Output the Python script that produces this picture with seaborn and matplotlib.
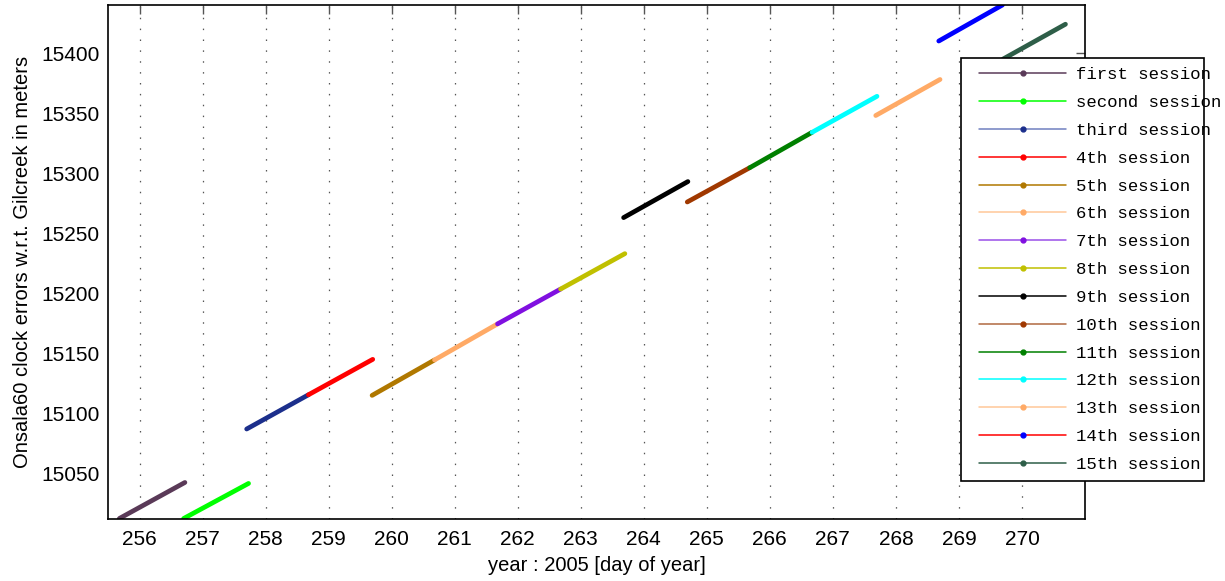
import matplotlib
matplotlib.use("Agg")
import matplotlib.pyplot as plt
from matplotlib.lines import Line2D
from matplotlib.patches import Rectangle
import seaborn as sns
import pandas as pd

# Session labels and the start / end of each clock-error segment
sessions = ["first session", "second session", "third session", "4th session",
            "5th session", "6th session", "7th session", "8th session",
            "9th session", "10th session", "11th session", "12th session",
            "13th session", "14th session", "15th session"]
t_start = [255.68, 256.70, 257.70, 258.68, 259.69, 260.68, 261.68, 262.68,
           263.68, 264.69, 265.68, 266.67, 267.68, 268.68, 269.70]
t_end = [256.72, 257.73, 258.68, 259.70, 260.68, 261.68, 262.68, 263.70,
         264.70, 265.68, 266.67, 267.70, 268.70, 269.69, 270.69]
v_start = [15012.5, 15012.5, 15087.0, 15115.5, 15115.0, 15144.5, 15174.5, 15203.5,
           15263.0, 15276.0, 15304.5, 15334.0, 15348.0, 15410.0, 15395.0]
v_end = [15042.5, 15041.7, 15115.5, 15145.0, 15144.5, 15174.5, 15203.5, 15233.0,
         15293.0, 15304.5, 15334.0, 15364.0, 15378.0, 15440.0, 15424.0]

# Colours: plotted segment, legend line, legend marker
seg_colors = ["#5a3a58", "#00ff00", "#1c2f8c", "#ff0000", "#b07800", "#ffaa66",
              "#8010e0", "#c0c000", "#000000", "#a03800", "#008000", "#00ffff",
              "#ffaa66", "#0000ff", "#2e5e48"]
leg_line_colors = ["#5a3a58", "#00ff00", "#7080c0", "#ff0000", "#b07800", "#ffc898",
                   "#9a50e8", "#c0c000", "#000000", "#b06840", "#008000", "#00ffff",
                   "#ffc898", "#ff0000", "#2e5e48"]
leg_marker_colors = ["#5a3a58", "#00ff00", "#1c2f8c", "#ff0000", "#b07800", "#ffaa66",
                     "#8010e0", "#c0c000", "#000000", "#a03800", "#008000", "#00ffff",
                     "#ffaa66", "#0000ff", "#2e5e48"]

x_ticks = list(range(256, 271))
y_ticks = [15050, 15100, 15150, 15200, 15250, 15300, 15350, 15400]

sns.set_style("white")
plt.rcParams["font.family"] = ["Liberation Sans", "DejaVu Sans"]
plt.rcParams["text.color"] = "black"
plt.rcParams["axes.labelcolor"] = "black"

fig = plt.figure(figsize=(12.25, 5.81), dpi=100)
ax = fig.add_axes([108 / 1225, 1 - 518.5 / 581, (1085 - 108) / 1225, (518.5 - 5) / 581])

for name, t0, t1, v0, v1, c in zip(sessions, t_start, t_end, v_start, v_end, seg_colors):
    df = pd.DataFrame({"t": [t0, t1], "v": [v0, v1]})
    sns.lineplot(data=df, x="t", y="v", ax=ax, color=c, linewidth=3.4,
                 solid_capstyle="round", legend=False, estimator=None)

ax.set_xlim(255.5, 271.0)
ax.set_ylim(15012.5, 15440)
ax.set_xticks(x_ticks)
ax.set_yticks(y_ticks)
ax.tick_params(direction="in", top=True, right=True, length=6.5, width=1,
               color="#555555", labelcolor="black", labelsize=15)
ax.tick_params(axis="x", pad=8)
ax.tick_params(axis="y", pad=6)
ax.xaxis.grid(True, linestyle=(0, (1.2, 7.5)), linewidth=0.9, color="#555555")
ax.yaxis.grid(False)
for sp in ax.spines.values():
    sp.set_color("black")
    sp.set_linewidth(1.2)

ax.set_xlabel("year : 2005 [day of year]", fontsize=14.5, labelpad=5)
ax.set_ylabel("Onsala60 clock errors w.r.t. Gilcreek in meters", fontsize=14.5, labelpad=7)

# Legend: thin lines with dot markers, monospaced labels
handles = [Line2D([], [], color=lc, linewidth=1.1, marker="o", markersize=3.5,
                  markerfacecolor=mc, markeredgecolor=mc)
           for lc, mc in zip(leg_line_colors, leg_marker_colors)]
frame = Rectangle((961 / 1225, 1 - 481 / 581), (1204 - 961) / 1225, (481 - 58) / 581,
                  transform=fig.transFigure, facecolor="white", edgecolor="black",
                  linewidth=1.2, zorder=4)
fig.add_artist(frame)
leg = fig.legend(handles, sessions, loc="upper left",
                 bbox_to_anchor=(974 / 1225, 1 - 62 / 581),
                 frameon=False, prop={"family": "Liberation Mono", "size": 12.5},
                 handlelength=5.0, handletextpad=0.6, labelspacing=0.73,
                 borderaxespad=0, borderpad=0.3)
leg.set_zorder(5)

fig.savefig("out.png", dpi=100)
